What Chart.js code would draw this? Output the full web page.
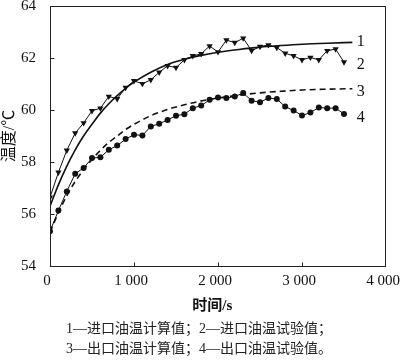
<!DOCTYPE html>
<html><head><meta charset="utf-8">
<script src="https://cdn.jsdelivr.net/npm/chart.js@4.4.0/dist/chart.umd.min.js"></script>
<style>html,body{margin:0;padding:0;background:#fff}#wrap{width:400px;height:362px;position:relative}</style>
</head><body><div id="wrap"><canvas id="c"></canvas></div>
<script>
// Experimental sampling times (s)
const expTime = [0,100,200,300,400,500,600,700,800,900,1000,1100,1200,1300,1400,1500,1600,1700,1800,1900,2000,2100,2200,2300,2400,2500,2600,2700,2800,2900,3000,3100,3200,3300,3400,3500];
// 2 — inlet oil temperature, test values
const inletExp = [56.64,57.60,58.45,59.11,59.50,59.97,60.07,60.52,60.43,60.86,61.12,61.01,61.16,61.45,61.70,61.63,61.93,62.08,62.16,62.46,62.23,62.69,62.59,62.76,62.28,62.44,62.50,62.40,62.18,62.08,61.93,62.02,61.93,62.28,62.34,61.84];
// 4 — outlet oil temperature, test values
const outletExp = [55.34,56.13,56.87,57.55,57.77,58.15,58.18,58.47,58.63,58.88,59.05,59.02,59.37,59.47,59.62,59.78,59.84,60.07,60.17,60.39,60.48,60.46,60.52,60.65,60.36,60.30,60.46,60.42,60.13,59.98,59.79,59.90,60.10,60.07,60.07,59.85];
// Calculation curve times (s)
const calcTime = [0,100,200,300,400,500,600,700,800,900,1000,1200,1400,1600,1800,2000,2250,2500,2750,3000,3300,3600];
// 1 — inlet oil temperature, calculated
const inletCalc = [56.3,57.12,57.84,58.47,59.0,59.45,59.88,60.24,60.55,60.83,61.07,61.45,61.75,61.95,62.1,62.22,62.33,62.42,62.48,62.53,62.57,62.6];
// 3 — outlet oil temperature, calculated
const outletCalc = [55.3,56.05,56.7,57.25,57.7,58.1,58.45,58.75,59.0,59.25,59.45,59.78,60.02,60.2,60.35,60.46,60.57,60.66,60.72,60.77,60.8,60.82];

const xTicks = [0,1000,2000,3000,4000];
const yTicks = [54,56,58,60,62,64];
const curveLabels = ['1','2','3','4'];
const curveLabelValues = [62.63,61.74,60.71,59.69];
const curveLabelTime = 3700;
const xTitle = '时间/s';
const yTitle = '温度/℃';
const notes = ['1—进口油温计算值；2—进口油温试验值；','3—出口油温计算值；4—出口油温试验值。'];

const pts = (xs, ys) => xs.map((t, i) => ({x: t, y: ys[i]}));
const SERIF = '"Liberation Serif","Noto Sans CJK SC"';

const deco = {
  id: 'deco',
  afterDraw(chart) {
    const {ctx, chartArea: a, scales: {x, y}} = chart;
    ctx.save();
    ctx.strokeStyle = '#222';
    ctx.lineWidth = 1;
    const L = Math.round(a.left) + 0.5, R = Math.round(a.right) - 0.5;
    const T = Math.round(a.top) + 0.5, B = Math.round(a.bottom) + 0.5;
    ctx.strokeRect(L, T, R - L, B - T);
    ctx.beginPath();
    xTicks.slice(1, -1).forEach(v => {
      const px = Math.round(x.getPixelForValue(v)) + 0.5;
      ctx.moveTo(px, B); ctx.lineTo(px, B - 4);
    });
    yTicks.slice(1, -1).forEach(v => {
      const py = Math.round(y.getPixelForValue(v)) + 0.5;
      ctx.moveTo(L, py); ctx.lineTo(L + 4, py);
    });
    ctx.stroke();
    ctx.fillStyle = '#111';
    ctx.font = '16px ' + SERIF;
    ctx.textAlign = 'center';
    ctx.textBaseline = 'middle';
    curveLabels.forEach((s, i) => {
      ctx.fillText(s, x.getPixelForValue(curveLabelTime), y.getPixelForValue(curveLabelValues[i]));
    });
    ctx.font = '14px ' + SERIF;
    ctx.fillStyle = '#222';
    ctx.textAlign = 'left';
    ctx.fillText(notes[0], 66, 329);
    ctx.fillText(notes[1], 66, 349);
    ctx.restore();
  }
};

new Chart(document.getElementById('c'), {
  type: 'line',
  data: {
    datasets: [
      {label: '1', data: pts(calcTime, inletCalc), borderColor: '#111', borderWidth: 1.6, pointRadius: 0, tension: 0.4, cubicInterpolationMode: 'monotone', fill: false},
      {label: '2', data: pts(expTime, inletExp), borderColor: '#111', backgroundColor: '#111', borderWidth: 1, pointStyle: 'triangle', rotation: 180, pointRadius: 3.6, pointBorderWidth: 0, tension: 0, fill: false},
      {label: '3', data: pts(calcTime, outletCalc), borderColor: '#111', borderWidth: 1.6, borderDash: [6, 4], pointRadius: 0, tension: 0.4, cubicInterpolationMode: 'monotone', fill: false},
      {label: '4', data: pts(expTime, outletExp), borderColor: '#111', backgroundColor: '#111', borderWidth: 1, pointStyle: 'circle', pointRadius: 3, pointBorderWidth: 0, tension: 0, fill: false}
    ]
  },
  options: {
    responsive: true,
    maintainAspectRatio: false,
    animation: false,
    layout: {padding: {top: 6, right: 14, left: 0, bottom: 46}},
    plugins: {legend: {display: false}, tooltip: {enabled: false}},
    scales: {
      x: {
        type: 'linear', min: 0, max: 4000,
        afterBuildTicks: s => { s.ticks = xTicks.map(v => ({value: v})); },
        afterFit: s => { s.height = 50; s.paddingLeft = 0; s.paddingRight = 0; },
        grid: {display: false}, border: {display: false},
        ticks: {color: '#111', padding: -2, labelOffset: -3, maxRotation: 0, font: {family: SERIF, size: 15},
          callback: v => v >= 1000 ? Math.floor(v / 1000) + ' ' + String(v % 1000).padStart(3, '0') : String(v)},
        title: {display: true, text: xTitle + '   ', color: '#111', padding: {top: 0, bottom: 1}, font: {family: SERIF, size: 15, weight: 'bold'}}
      },
      y: {
        type: 'linear', min: 54, max: 64,
        afterBuildTicks: s => { s.ticks = yTicks.map(v => ({value: v})); },
        afterFit: s => { s.width = 50; s.paddingTop = 0; s.paddingBottom = 0; },
        grid: {display: false}, border: {display: false},
        ticks: {color: '#111', padding: 6, font: {family: SERIF, size: 15}},
        title: {display: true, text: yTitle, color: '#111', padding: {top: 2, bottom: 0}, font: {family: SERIF, size: 16, lineHeight: 1}}
      }
    }
  },
  plugins: [deco]
});
</script></body></html>
